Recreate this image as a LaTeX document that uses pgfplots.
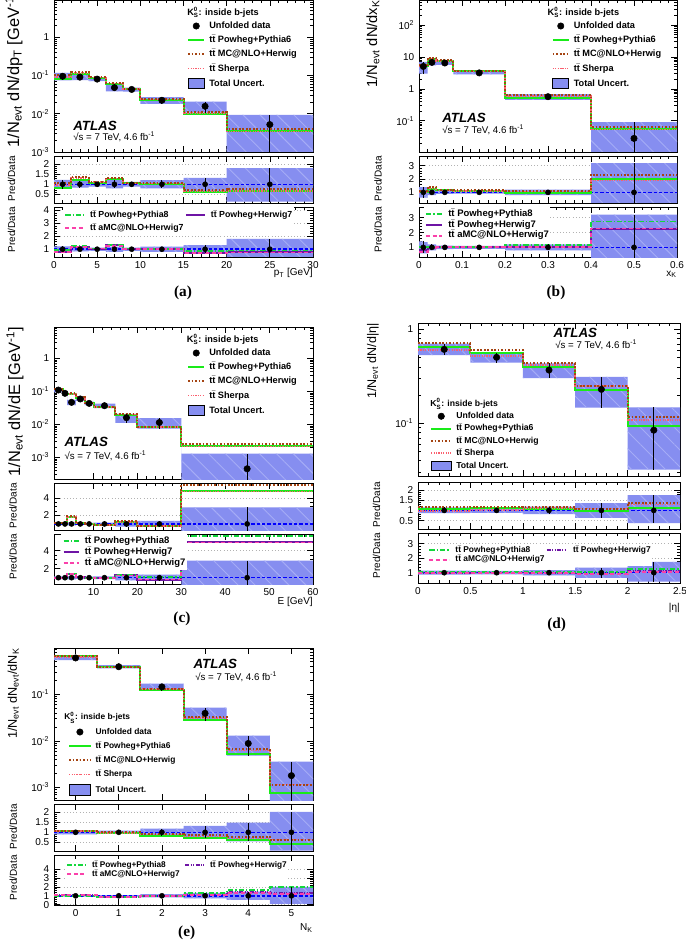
\documentclass[border=0pt]{standalone}
\usepackage{fontspec}
\setmainfont{Liberation Sans}
\newfontfamily\serifbf{Liberation Serif}
\usepackage{pgfplots}
\pgfplotsset{compat=1.18}
\usepackage{pgfplotstable}
\usetikzlibrary{patterns.meta}

\definecolor{cPPsix}{RGB}{25,235,25}
\definecolor{cMC}{RGB}{165,68,18}
\definecolor{cSh}{RGB}{250,95,110}
\definecolor{cPPeight}{RGB}{20,215,60}
\definecolor{cPHseven}{RGB}{110,20,165}
\definecolor{cAMC}{RGB}{250,65,170}
\definecolor{cBand}{RGB}{134,142,240}
\definecolor{cBandLt}{RGB}{165,172,246}

\newcommand{\ttb}{t\ensuremath{\bar{\mbox{t}}}}
\newcommand{\Kzs}{K\ensuremath{^{\mbox{\fontsize{4.6}{5}\selectfont 0}}_{\mbox{\fontsize{4.6}{5}\selectfont S}}}}
\newcommand{\rts}{√s = 7 TeV, 4.6 fb\textsuperscript{-1}}
\newcommand{\logylab}{\pgfmathtruncatemacro{\tkx}{round(\tick)}\ifnum\tkx=0 1\else\ifnum\tkx=1 10\else 10\textsuperscript{\tkx}\fi\fi}

% x = left bin edge, c = bin centre, d = data, eu/el = rel. total uncertainty,
% model columns are Pred/Data ratios (main panel draws d*ratio)
\pgfplotstableread{
x    c     d       eu    el    pp6   mc    sh    pp8   ph7   amc
0    1     0.095   0.22  0.22  0.84  1.05  0.95  0.95  0.75  0.80
2    3     0.090   0.16  0.16  1.21  1.38  1.30  1.25  1.15  1.15
4    5     0.080   0.12  0.12  1.08  1.13  1.10  1.05  1.05  1.05
6    7     0.048   0.20  0.20  1.25  1.33  1.28  1.35  1.30  1.25
8    9     0.043   0.12  0.12  1.05  1.05  1.03  1.05  1.05  1.03
10   12.5  0.0224  0.20  0.20  1.02  1.08  1.04  1.03  1.02  1.02
15   17.5  0.0156  0.32  0.32  0.62  0.72  0.68  0.85  0.68  0.70
20   25    0.0052  0.80  0.85  0.69  0.75  0.66  0.90  0.75  0.75
30   nan   0.0052  0.80  0.85  0.69  0.75  0.66  0.90  0.75  0.75
}\tabA
% uncertainty band outline: upper edge left to right, lower edge right to left (y = d*f)
\pgfplotstableread{
x   d      f
0   0.095  1.22
2   0.090  1.16
4   0.080  1.12
6   0.048  1.20
8   0.043  1.12
10  0.0224 1.20
15  0.0156 1.32
20  0.0052 1.80
30  0.0052 1.80
30  0.0052 0.15
20  0.0156 0.68
15  0.0224 0.80
10  0.043  0.88
8   0.048  0.80
6   0.080  0.88
4   0.090  0.84
2   0.095  0.78
0   0.095  0.78
}\bandA
\pgfplotstableread{
x     c     d      eu    el    pp6   mc    sh    pp8   ph7   amc
0     0.01  5.0    0.40  0.40  1.05  1.10  1.00  1.00  0.85  0.70
0.02  0.03  6.7    0.20  0.20  1.25  1.40  1.30  1.00  0.95  0.95
0.04  0.06  6.4    0.12  0.12  1.15  1.20  1.15  1.00  1.00  1.00
0.08  0.14  3.14   0.10  0.10  1.12  1.15  1.12  1.00  1.02  1.00
0.2   0.3   0.565  0.20  0.20  0.93  1.12  1.05  1.15  1.02  1.00
0.4   0.5   0.028  2.20  0.82  1.97  2.33  1.88  2.75  2.27  2.27
0.6   nan   0.028  2.20  0.82  1.97  2.33  1.88  2.75  2.27  2.27
}\tabB
\pgfplotstableread{
x     d      f
0     5.0    1.40
0.02  6.7    1.20
0.04  6.4    1.12
0.08  3.14   1.10
0.2   0.565  1.20
0.4   0.028  3.20
0.6   0.028  3.20
0.6   0.028  0.18
0.4   0.565  0.80
0.2   3.14   0.90
0.08  6.4    0.88
0.04  6.7    0.80
0.02  5.0    0.60
0     5.0    0.60
}\bandB
\pgfplotstableread{
x    c     d        eu    el    pp6   mc    sh    pp8   ph7   amc
1    2     0.110    0.15  0.15  1.10  1.10  1.05  1.00  0.95  1.00
3    3.5   0.0875   0.12  0.12  1.00  1.02  1.00  1.00  1.00  1.00
4    5     0.0466   0.18  0.18  1.77  1.88  1.80  1.45  1.45  1.45
6    7     0.059    0.12  0.12  1.10  1.12  1.08  1.10  1.05  1.05
8    9     0.0434   0.12  0.12  1.00  1.02  1.00  1.00  1.00  1.00
10   12.5  0.0369   0.15  0.15  0.92  0.92  0.90  0.95  0.95  0.92
15   17.5  0.0159   0.30  0.30  1.25  1.30  1.25  1.33  1.30  1.25
20   25    0.0114   0.35  0.35  0.75  0.75  0.73  1.10  0.80  0.80
30   45    0.00045  1.90  0.95  4.85  5.45  4.75  5.60  4.95  4.90
60   nan   0.00045  1.90  0.95  4.85  5.45  4.75  5.60  4.95  4.90
}\tabC
\pgfplotstableread{
x    d        f
1    0.110    1.15
3    0.0875   1.12
4    0.0466   1.18
6    0.059    1.12
8    0.0434   1.12
10   0.0369   1.15
15   0.0159   1.30
20   0.0114   1.35
30   0.00045  2.90
60   0.00045  2.90
60   0.00045  0.05
30   0.0114   0.65
20   0.0159   0.70
15   0.0369   0.85
10   0.0434   0.88
8    0.059    0.88
6    0.0466   0.82
4    0.0875   0.88
3    0.110    0.85
1    0.110    0.85
}\bandC
\pgfplotstableread{
x    c     d       eu    el    pp6   mc    sh    pp8   ph7   amc
0    0.25  0.613   0.15  0.13  1.07  1.16  0.98  1.05  1.00  0.97
0.5  0.75  0.504   0.12  0.12  1.10  1.19  1.03  1.07  1.02  0.98
1    1.25  0.369   0.18  0.18  1.08  1.18  1.13  1.05  1.00  0.97
1.5  1.75  0.230   0.36  0.36  0.98  1.09  1.09  1.03  0.95  0.92
2    2.25  0.0846  0.75  0.62  1.11  1.37  1.28  1.25  1.10  1.05
2.5  nan   0.0846  0.75  0.62  1.11  1.37  1.28  1.25  1.10  1.05
}\tabD
\pgfplotstableread{
x    d        f
0    0.613   1.15
0.5  0.504   1.12
1    0.369   1.18
1.5  0.230   1.36
2    0.0846  1.75
2.5  0.0846  1.75
2.5  0.0846  0.38
2    0.230   0.64
1.5  0.369   0.82
1    0.504   0.88
0.5  0.613   0.87
0    0.613   0.87
}\bandD
\pgfplotstableread{
x     c    d       eu    el    pp6   mc    sh    pp8   ph7   amc
-0.5  0    0.60    0.10  0.10  1.08  1.08  1.05  1.00  1.05  1.05
0.5   1    0.389   0.08  0.08  0.97  1.00  0.96  0.90  0.85  0.85
1.5   2    0.144   0.18  0.18  0.84  0.92  0.90  1.00  0.98  0.95
2.5   3    0.039   0.32  0.30  0.72  0.85  0.80  1.35  1.15  1.10
3.5   4    0.0088  0.48  0.45  0.60  0.76  0.70  1.62  1.45  1.35
4.5   5    0.0018  1.00  0.90  0.43  0.62  0.65  1.97  1.30  1.20
5.5   nan  0.0018  1.00  0.90  0.43  0.62  0.65  1.97  1.30  1.20
}\tabE
\pgfplotstableread{
x     d       f
-0.5  0.60    1.10
0.5   0.389   1.08
1.5   0.144   1.18
2.5   0.039   1.32
3.5   0.0088  1.48
4.5   0.0018  2.00
5.5   0.0018  2.00
5.5   0.0018  0.10
4.5   0.0088  0.55
3.5   0.039   0.70
2.5   0.144   0.82
1.5   0.389   0.92
0.5   0.60    0.90
-0.5  0.60    0.90
}\bandE

\pgfplotsset{
  atlbase/.style={scale only axis, anchor=north west,
    axis line style={line width=0.5pt},
    tick align=inside, major tick length=4.5pt, minor tick length=2.3pt,
    tick style={black, line width=0.4pt},
    ticklabel style={font=\fontsize{7.5}{9}\selectfont},
    /pgf/number format/assume math mode=true,
    legend cell align=left},
  ratax/.style={atlbase, ymajorgrids, grid style={gray!60, dotted, line width=0.5pt}},
  symlen/.style={legend image code/.code={\draw[mark repeat=2,mark phase=2,##1] plot coordinates {(0pt,0pt) (#1/2,0pt) (#1,0pt)};}},
  bandst/.style={const plot, fill=cBand, draw=none,
    postaction={pattern={Lines[angle=-45,distance=9pt,line width=0.7pt]}, pattern color=cBandLt}},
  pps/.style={cPPsix, line width=1.5pt},
  mcs/.style={cMC, line width=1.5pt, dash pattern=on 1.3pt off 1.3pt},
  shs/.style={cSh, line width=1.2pt, dash pattern=on 0.9pt off 0.9pt},
  p8s/.style={cPPeight, line width=1.3pt, dash pattern=on 4pt off 1.5pt on 1pt off 1.5pt},
  h7a/.style={cPHseven, line width=1.5pt},
  h7b/.style={cPHseven, line width=1.3pt, dash pattern=on 3pt off 1pt on 0.8pt off 1pt on 0.8pt off 1pt},
  ams/.style={cAMC, line width=1.4pt, dash pattern=on 3pt off 2pt},
  % main legend at (x,y): font size, row gap; rows are 5.5pt+1.6pt tall plus the gap
  mleg/.style n args={4}{legend style={at={(#1,#2)}, anchor=north west, draw=none, fill=none,
      inner sep=0pt, row sep=#4, font=\bfseries\fontsize{#3}{#3}\selectfont,
      nodes={inner sep=0pt, text height=5.2pt, text depth=1.5pt},
      /tikz/every odd column/.append style={column sep=3pt}}},
  rleg/.style n args={5}{legend style={at={(#1,#2)}, anchor=north west, draw=none, fill=white,
      inner sep=1pt, row sep=0pt, font=\bfseries\fontsize{#3}{#3}\selectfont,
      nodes={inner sep=0pt, text height=#4, text depth=#5},
      /tikz/every odd column/.append style={column sep=4pt}}},
}

\newcommand{\mainbody}[2]{%
  \addplot[forget plot, bandst] table[x=x, y expr=\thisrow{d}*\thisrow{f}] {#2};
  \addplot[forget plot, const plot, pps] table[x=x, y expr=\thisrow{d}*\thisrow{pp6}] {#1};
  \addplot[forget plot, const plot, shs] table[x=x, y expr=\thisrow{d}*\thisrow{sh}] {#1};
  \addplot[forget plot, const plot, mcs] table[x=x, y expr=\thisrow{d}*\thisrow{mc}] {#1};
  \addplot[forget plot, only marks, mark=*, mark size=2.4pt, black,
    error bars/.cd, y dir=both, y explicit, error mark=none, error bar style={black, line width=0.7pt}]
    table[x=c, y=d, y error plus expr=\thisrow{d}*\thisrow{eu}, y error minus expr=\thisrow{d}*\thisrow{el}] {#1};
}
\newcommand{\bandratio}[2]{%
  \addplot[forget plot, bandst] table[x=x, y=f] {#2};
  \addplot[forget plot, blue, line width=1.1pt, dash pattern=on 2.5pt off 1.5pt] table[x=x, y expr=1] {#1};
}
\newcommand{\ratdata}[1]{\addplot[forget plot, only marks, mark=*, mark size=1.9pt, black,
    error bars/.cd, y dir=both, y explicit, error mark=none, error bar style={black, line width=0.7pt}]
    table[x=c, y expr=1, y error plus=eu, y error minus=el] {#1};}
\newcommand{\ratone}[2]{\bandratio{#1}{#2}
  \addplot[forget plot, const plot, pps] table[x=x, y=pp6] {#1};
  \addplot[forget plot, const plot, shs] table[x=x, y=sh] {#1};
  \addplot[forget plot, const plot, mcs] table[x=x, y=mc] {#1};
  \ratdata{#1}}
\newcommand{\rattwo}[3]{\bandratio{#1}{#2}
  \addplot[forget plot, const plot, #3] table[x=x, y=ph7] {#1};
  \addplot[forget plot, const plot, p8s] table[x=x, y=pp8] {#1};
  \addplot[forget plot, const plot, ams] table[x=x, y=amc] {#1};
  \ratdata{#1}}
\newcommand{\mainleg}[2]{%
  \addlegendimage{only marks, mark=*, mark size=2.4pt, black}\addlegendentry{Unfolded data}
  \addlegendimage{pps}\addlegendentry{\ttb\ Powheg+Pythia6}
  \addlegendimage{mcs}\addlegendentry{\ttb\ MC@NLO+Herwig}
  \addlegendimage{shs}\addlegendentry{\ttb\ Sherpa}
  \addlegendimage{legend image code/.code={\fill[cBand] (0pt,-#1) rectangle (#2,#1);\draw[line width=0.4pt] (0pt,-#1) rectangle (#2,#1);}}\addlegendentry{Total Uncert.}}
\newcommand{\ratleg}[1]{%
  \addlegendimage{p8s}\addlegendentry{\ttb\ Powheg+Pythia8}
  \addlegendimage{#1}\addlegendentry{\ttb\ Powheg+Herwig7}
  \addlegendimage{ams}\addlegendentry{\ttb\ aMC@NLO+Herwig7}}

\tikzset{
  tYlab/.style={rotate=90, anchor=east, inner sep=0pt, font=\fontsize{#1}{#1}\selectfont},
  tPd/.style={rotate=90, anchor=east, inner sep=0pt, font=\fontsize{7.5}{8}\selectfont},
  tHdr/.style={anchor=west, inner sep=0pt, font=\bfseries\fontsize{#1}{#1}\selectfont},
  tAtlas/.style={anchor=west, inner sep=0pt, font=\bfseries\itshape\fontsize{10}{12}\selectfont},
  tRts/.style={anchor=west, inner sep=0pt, font=\fontsize{7.3}{8}\selectfont},
  tXl/.style={anchor=east, inner sep=0pt, font=\fontsize{7.5}{8}\selectfont},
  tPl/.style={inner sep=0pt, font=\serifbf\bfseries\fontsize{11.5}{13}\selectfont},
}

\begin{document}
\begin{tikzpicture}
\useasboundingbox (0,0) rectangle (513.75pt,-705.75pt);

% ===== (a) pT =====
\begin{axis}[atlbase, ymode=log, log basis y=10, yticklabel={\logylab}, xticklabels={},
  at={(40.5pt,0pt)}, width=194.25pt, height=114pt,
  xmin=0, xmax=30, xtick={0,5,...,30}, minor x tick num=4, ymin=1e-3, ymax=9.3,
  symlen=12pt, mleg={0.5135}{0.86}{6.9}{3.95pt}]
\mainbody{\tabA}{\bandA}
\mainleg{3.75pt}{12pt}
\end{axis}
\begin{axis}[ratax, at={(40.5pt,-117pt)}, width=194.25pt, height=35.25pt,
  xmin=0, xmax=30, xtick={0,5,...,30}, minor x tick num=4, xticklabels={},
  ymin=0.08, ymax=2.39, ytick={0.5,1,1.5,2}, minor y tick num=4]
\ratone{\tabA}{\bandA}
\end{axis}
\begin{axis}[ratax, at={(40.5pt,-155.25pt)}, width=194.25pt, height=37.5pt,
  xmin=0, xmax=30, xtick={0,5,...,30}, minor x tick num=4,
  ymin=0.4, ymax=4.25, ytick={1,2,3,4}, minor y tick num=4,
  symlen=14pt, rleg={0.0335}{0.997}{6.6}{6.9pt}{2.85pt}, legend columns=2,
  legend style={/tikz/every even column/.append style={column sep=1pt}}]
\rattwo{\tabA}{\bandA}{h7a}
\ratleg{h7a}
\end{axis}
\node[tYlab=12.3] at (10.5pt,6pt) {1/N\textsubscript{evt} dN/dp\textsubscript{T} [GeV\textsuperscript{-1}]};
\node[tPd] at (8.75pt,-117pt) {Pred/Data};
\node[tPd] at (8.75pt,-155.25pt) {Pred/Data};
\node[tHdr=6.9] at (140.25pt,-9.2pt) {\Kzs: inside b-jets};
\node[tAtlas] at (54.75pt,-94.5pt) {ATLAS};
\node[tRts] at (54.75pt,-102.75pt) {\rts};
\node[tXl] at (234.75pt,-204.75pt) {p\textsubscript{T} [GeV]};
\node[tPl] at (137.25pt,-219.75pt) {(a)};

% ===== (b) xK =====
\begin{axis}[atlbase, ymode=log, log basis y=10, yticklabel={\logylab}, xticklabels={},
  at={(314.25pt,0pt)}, width=193.5pt, height=114pt,
  xmin=0, xmax=0.6, xtick={0,0.1,0.2,0.3,0.4,0.5,0.6}, minor x tick num=4, ymin=0.0105, ymax=600,
  symlen=12pt, mleg={0.5135}{0.86}{6.9}{3.95pt}]
\mainbody{\tabB}{\bandB}
\mainleg{3.75pt}{12pt}
\end{axis}
\begin{axis}[ratax, at={(314.25pt,-117pt)}, width=193.5pt, height=35.25pt,
  xmin=0, xmax=0.6, xtick={0,0.1,0.2,0.3,0.4,0.5,0.6}, minor x tick num=4, xticklabels={},
  ymin=0.2, ymax=3.73, ytick={1,2,3}, minor y tick num=4]
\ratone{\tabB}{\bandB}
\end{axis}
\begin{axis}[ratax, at={(314.25pt,-155.25pt)}, width=193.5pt, height=37.5pt,
  xmin=0, xmax=0.6, xtick={0,0.1,0.2,0.3,0.4,0.5,0.6}, minor x tick num=4,
  ymin=0.35, ymax=3.72, ytick={1,2,3}, minor y tick num=4,
  symlen=12pt, rleg={0.017}{0.999}{7.1}{5.8pt}{2.3pt}]
\rattwo{\tabB}{\bandB}{h7a}
\ratleg{h7a}
\end{axis}
\node[tYlab=11] at (279.75pt,0pt) {1/N\textsubscript{evt} dN/dx\textsubscript{K}};
\node[tPd] at (283.5pt,-117pt) {Pred/Data};
\node[tPd] at (283.5pt,-155.25pt) {Pred/Data};
\node[tHdr=6.9] at (410.5pt,-9.2pt) {\Kzs: inside b-jets};
\node[tAtlas] at (331.5pt,-88.5pt) {ATLAS};
\node[tRts] at (331.5pt,-97.5pt) {\rts};
\node[tXl] at (507.75pt,-205.7pt) {x\textsubscript{K}};
\node[tPl] at (417pt,-219.75pt) {(b)};

% ===== (c) E =====
\begin{axis}[atlbase, ymode=log, log basis y=10, yticklabel={\logylab}, xticklabels={},
  at={(40.5pt,-245.25pt)}, width=194.25pt, height=114pt,
  xmin=1, xmax=60, xtick={10,20,...,60}, minor x tick num=4, ymin=2.2e-4, ymax=9,
  symlen=12pt, mleg={0.5135}{0.86}{6.9}{3.95pt}]
\mainbody{\tabC}{\bandC}
\mainleg{3.75pt}{12pt}
\end{axis}
\begin{axis}[ratax, at={(40.5pt,-362.25pt)}, width=194.25pt, height=35.25pt,
  xmin=1, xmax=60, xtick={10,20,...,60}, minor x tick num=4, xticklabels={},
  ymin=0.3, ymax=5.73, ytick={2,4}, minor y tick num=3]
\ratone{\tabC}{\bandC}
\end{axis}
\begin{axis}[ratax, at={(40.5pt,-400.5pt)}, width=194.25pt, height=37.5pt,
  xmin=1, xmax=60, xtick={10,20,...,60}, minor x tick num=4,
  ymin=0.3, ymax=5.85, ytick={2,4}, minor y tick num=3,
  symlen=11.25pt, rleg={0.027}{0.997}{7.1}{5.9pt}{2.35pt}]
\rattwo{\tabC}{\bandC}{h7a}
\ratleg{h7a}
\end{axis}
\node[tYlab=12.3] at (11.25pt,-245.25pt) {1/N\textsubscript{evt} dN/dE [GeV\textsuperscript{-1}]};
\node[tPd] at (9.75pt,-362.25pt) {Pred/Data};
\node[tPd] at (9.75pt,-400.5pt) {Pred/Data};
\node[tHdr=6.9] at (140pt,-254.5pt) {\Kzs: inside b-jets};
\node[tAtlas] at (48.2pt,-331.3pt) {ATLAS};
\node[tRts] at (48.2pt,-341.8pt) {\rts};
\node[tXl] at (234.75pt,-451.3pt) {E [GeV]};
\node[tPl] at (136.5pt,-464.25pt) {(c)};

% ===== (d) |eta| =====
\begin{axis}[atlbase, ymode=log, log basis y=10, yticklabel={\logylab}, xticklabels={},
  at={(313.5pt,-242.25pt)}, width=196.5pt, height=114.75pt,
  xmin=0, xmax=2.5, xtick={0,0.5,1,1.5,2,2.5}, minor x tick num=4, ymin=0.0275, ymax=1.17,
  symlen=15pt, mleg={0.0458}{0.4214}{6.5}{2.5pt}]
\mainbody{\tabD}{\bandD}
\mainleg{3.6pt}{15pt}
\end{axis}
\begin{axis}[ratax, at={(313.5pt,-361.5pt)}, width=196.5pt, height=35.25pt,
  xmin=0, xmax=2.5, xtick={0,0.5,1,1.5,2,2.5}, minor x tick num=4, xticklabels={},
  ymin=0.09, ymax=2.39, ytick={0.5,1,1.5,2}, minor y tick num=4]
\ratone{\tabD}{\bandD}
\end{axis}
\begin{axis}[ratax, at={(313.5pt,-399.75pt)}, width=196.5pt, height=37.5pt,
  xmin=0, xmax=2.5, xtick={0,0.5,1,1.5,2,2.5}, minor x tick num=4,
  ymin=0.29, ymax=3.74, ytick={1,2,3}, minor y tick num=4,
  symlen=15pt, rleg={0.033}{0.78}{6.3}{5pt}{2pt}, legend columns=2,
  legend style={/tikz/every even column/.append style={column sep=1pt}}]
\rattwo{\tabD}{\bandD}{h7b}
\ratleg{h7b}
\end{axis}
\node[tYlab=9.4] at (279.75pt,-242.25pt) {1/N\textsubscript{evt} dN/d|η|};
\node[tPd] at (282.5pt,-361.5pt) {Pred/Data};
\node[tPd] at (282.5pt,-399.75pt) {Pred/Data};
\node[tHdr=6.5] at (322.5pt,-303pt) {\Kzs: inside b-jets};
\node[tAtlas] at (415pt,-250pt) {ATLAS};
\node[tRts] at (416.25pt,-258.75pt) {\rts};
\node[tXl] at (510pt,-456.2pt) {|η|};
\node[tPl] at (417.5pt,-468.75pt) {(d)};

% ===== (e) NK =====
\begin{axis}[atlbase, ymode=log, log basis y=10, yticklabel={\logylab}, xticklabels={},
  at={(40.5pt,-486pt)}, width=194.25pt, height=114pt,
  xmin=-0.5, xmax=5.5, xtick={0,...,5}, ymin=5.4e-4, ymax=0.98,
  symlen=16pt, mleg={0.054}{0.4785}{6.3}{3.9pt}]
\mainbody{\tabE}{\bandE}
\mainleg{4pt}{16pt}
\end{axis}
\begin{axis}[ratax, at={(40.5pt,-603pt)}, width=194.25pt, height=35.25pt,
  xmin=-0.5, xmax=5.5, xtick={0,...,5}, xticklabels={},
  ymin=0.08, ymax=2.39, ytick={0.5,1,1.5,2}, minor y tick num=4]
\ratone{\tabE}{\bandE}
\end{axis}
\begin{axis}[ratax, at={(40.5pt,-641.25pt)}, width=194.25pt, height=37.5pt,
  xmin=-0.5, xmax=5.5, xtick={0,...,5},
  ymin=-0.03, ymax=5.57, ytick={0,1,2,3,4}, minor y tick num=4,
  symlen=14pt, rleg={0.041}{0.925}{6.2}{5pt}{2pt}, legend columns=2,
  legend style={/tikz/every even column/.append style={column sep=3.5pt}}]
\rattwo{\tabE}{\bandE}{h7b}
\ratleg{h7b}
\end{axis}
\node[tYlab=9.5] at (10pt,-486pt) {1/N\textsubscript{evt} dN\textsubscript{evt}/dN\textsubscript{K}};
\node[tPd] at (10pt,-603pt) {Pred/Data};
\node[tPd] at (10pt,-641.25pt) {Pred/Data};
\node[tHdr=6.3] at (48pt,-538.3pt) {\Kzs: inside b-jets};
\node[tAtlas] at (145pt,-498.2pt) {ATLAS};
\node[tRts] at (146.25pt,-507.5pt) {\rts};
\node[tXl] at (234.75pt,-696.2pt) {N\textsubscript{K}};
\node[tPl] at (140pt,-699.5pt) {(e)};
\end{tikzpicture}
\end{document}
